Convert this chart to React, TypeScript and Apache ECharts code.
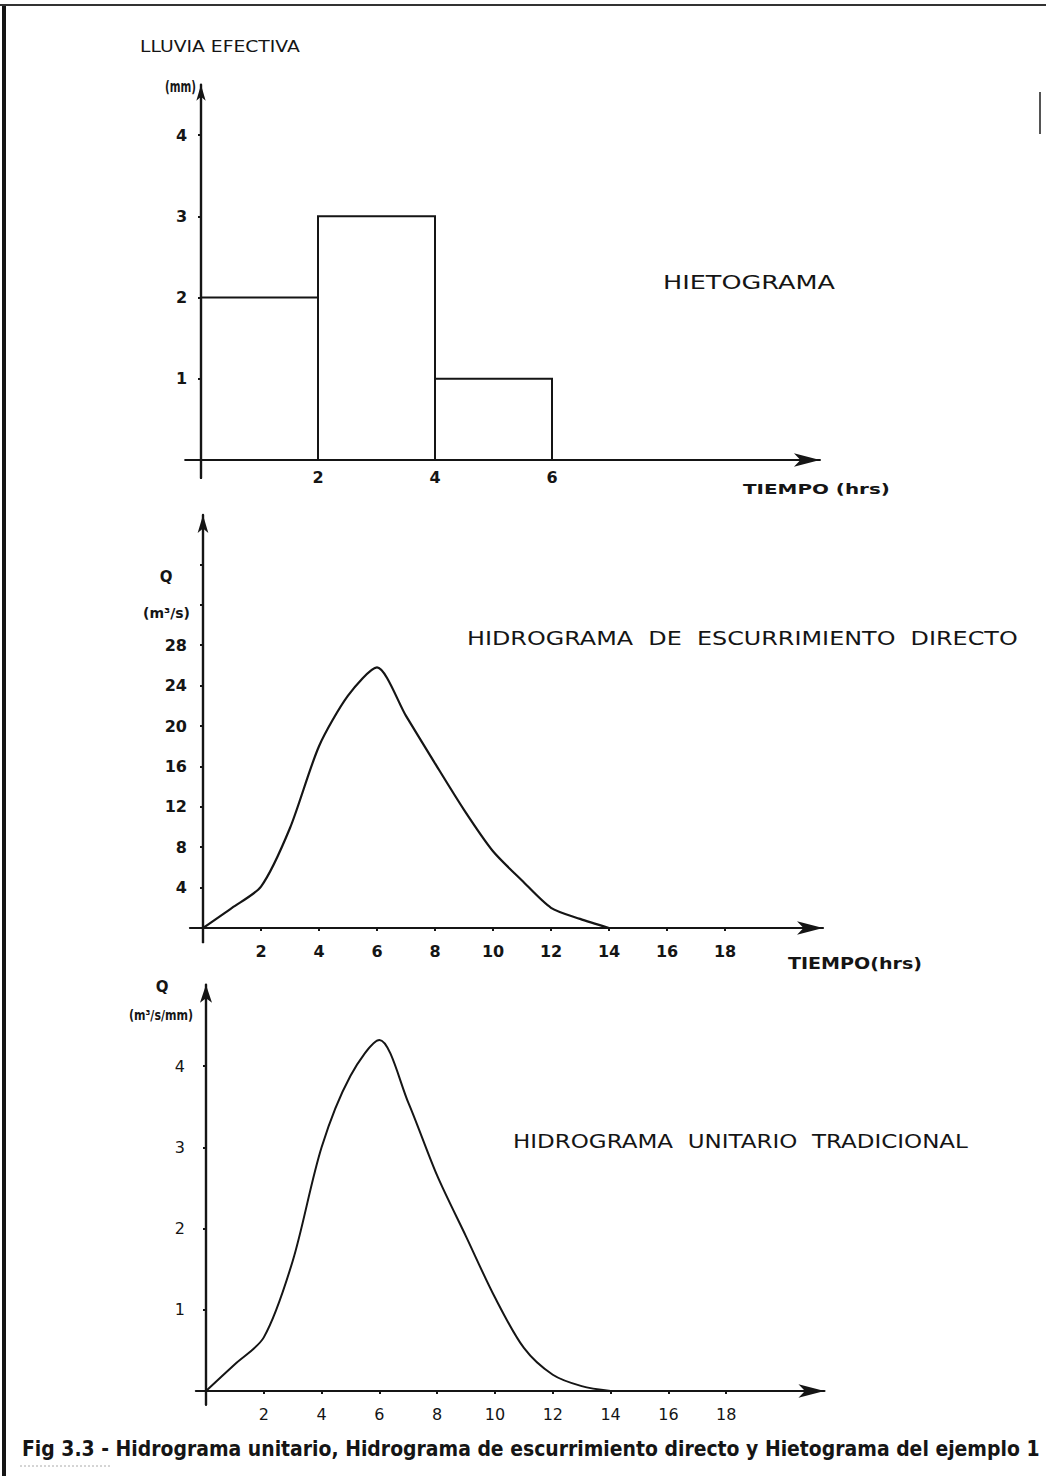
import { useEffect, useRef } from "react";
import * as echarts from "echarts";

// Hietograma: effective rainfall blocks (start hr, end hr, mm)
const RAIN_START = [0, 2, 4];
const RAIN_END = [2, 4, 6];
const RAIN_MM = [2, 3, 1];
const RAIN_Y_TICKS = [1, 2, 3, 4];
const RAIN_X_TICKS = [2, 4, 6];

// Direct runoff hydrograph (m3/s) and unit hydrograph (m3/s/mm), hourly
const HOURS = [0, 1, 2, 3, 4, 5, 6, 7, 8, 9, 10, 11, 12, 13, 14];
const DIRECT_Q = [0, 2.0, 4.1, 9.9, 18.0, 23.0, 25.8, 21.0, 16.3, 11.7, 7.6, 4.7, 2.0, 0.9, 0];
const UNIT_Q = [0, 0.33, 0.66, 1.6, 3.0, 3.88, 4.32, 3.55, 2.65, 1.9, 1.15, 0.53, 0.2, 0.06, 0];
const Q_LABEL_TICKS = [4, 8, 12, 16, 20, 24, 28];
const Q_MARK_TICKS = [4, 8, 12, 16, 20, 24, 28, 32, 36];
const UNIT_TICKS = [1, 2, 3, 4];
const TIME_TICKS = [2, 4, 6, 8, 10, 12, 14, 16, 18];

const INK = "#151515";
const FONT = "'DejaVu Sans', 'Liberation Sans', sans-serif";

type Panel = {
  ox: number; oy: number; kx: number; ky: number;
  xMin: number; xMax: number; yMin: number; yMax: number;
};

// plot frames: origin pixel, pixels per unit, and value ranges
const P1: Panel = { ox: 201, oy: 460, kx: 58.5, ky: 81.25, xMin: -0.27, xMax: 10.58, yMin: -0.22, yMax: 4.62 };
const P2: Panel = { ox: 203, oy: 928, kx: 29, ky: 10.1, xMin: -0.45, xMax: 21.38, yMin: -1.4, yMax: 40.9 };
const P3: Panel = { ox: 206, oy: 1391, kx: 28.9, ky: 81.25, xMin: -0.35, xMax: 21.4, yMin: -0.17, yMax: 5.0 };

function gridOf(p: Panel) {
  return {
    left: p.ox + p.xMin * p.kx,
    top: p.oy - p.yMax * p.ky,
    width: (p.xMax - p.xMin) * p.kx,
    height: (p.yMax - p.yMin) * p.ky,
    containLabel: false,
    outerBoundsMode: "none",
  };
}

function measure(text: string, size: number, weight: string) {
  const ctx = document.createElement("canvas").getContext("2d");
  if (!ctx) return text.length * size * 0.6;
  ctx.font = `${weight} ${size}px ${FONT}`;
  return ctx.measureText(text).width;
}

// text placed at (x, y); optional target width stretches or squeezes it horizontally
function label(text: string, x: number, y: number, size: number, weight: string, width?: number, align = "left") {
  const scaleX = width ? width / measure(text, size, weight) : 1;
  return {
    type: "text",
    x,
    y,
    scaleX,
    silent: true,
    style: {
      text,
      fontSize: size,
      fontFamily: FONT,
      fontWeight: weight,
      fill: INK,
      align,
      verticalAlign: "middle",
    },
  };
}

function xAxisOf(idx: number, p: Panel, ticks: number[], showTicks: boolean, margin: number, weight: string, size: number) {
  return {
    type: "value",
    gridIndex: idx,
    min: p.xMin,
    max: p.xMax,
    axisLine: {
      onZero: true,
      symbol: ["none", "arrow"],
      symbolSize: [10, 26],
      lineStyle: { color: INK, width: 2.2 },
    },
    axisTick: { show: showTicks, customValues: ticks, length: 3, lineStyle: { color: INK, width: 2 } },
    axisLabel: { customValues: ticks, margin, color: INK, fontFamily: FONT, fontWeight: weight, fontSize: size },
    splitLine: { show: false },
  };
}

function yAxisOf(idx: number, p: Panel, labels: number[], marks: number[], margin: number, weight: string, size: number, arrow: number[]) {
  return {
    type: "value",
    gridIndex: idx,
    min: p.yMin,
    max: p.yMax,
    axisLine: {
      onZero: true,
      symbol: ["none", "arrow"],
      symbolSize: arrow,
      lineStyle: { color: INK, width: 2.4 },
    },
    axisTick: { show: true, customValues: marks, length: 3, lineStyle: { color: INK, width: 2 } },
    axisLabel: { customValues: labels, margin, color: INK, fontFamily: FONT, fontWeight: weight, fontSize: size },
    splitLine: { show: false },
  };
}

export default function App() {
  const ref = useRef<HTMLDivElement>(null);

  useEffect(() => {
    if (!ref.current) return;
    const chart = echarts.init(ref.current, null, { renderer: "svg" });

    const rainBlocks = RAIN_START.map((s, i) => [s, RAIN_END[i], RAIN_MM[i]]);
    const direct = HOURS.map((h, i) => [h, DIRECT_Q[i]]);
    const unit = HOURS.map((h, i) => [h, UNIT_Q[i]]);

    const option: any = {
      animation: false,
      backgroundColor: "#ffffff",
      grid: [gridOf(P1), gridOf(P2), gridOf(P3)],
      xAxis: [
        xAxisOf(0, P1, RAIN_X_TICKS, false, -8, "bold", 16),
        xAxisOf(1, P2, TIME_TICKS, true, 1, "bold", 16),
        xAxisOf(2, P3, TIME_TICKS, true, 2, "normal", 16),
      ],
      yAxis: [
        yAxisOf(0, P1, RAIN_Y_TICKS, RAIN_Y_TICKS, -2, "bold", 16, [7, 16]),
        yAxisOf(1, P2, Q_LABEL_TICKS, Q_MARK_TICKS, 3, "bold", 16, [8, 18]),
        yAxisOf(2, P3, UNIT_TICKS, UNIT_TICKS, 11, "normal", 16, [9, 18]),
      ],
      series: [
        {
          type: "custom",
          xAxisIndex: 0,
          yAxisIndex: 0,
          data: rainBlocks,
          encode: { x: [0, 1], y: 2 },
          renderItem: (_params: any, api: any) => {
            const a = api.coord([api.value(0), 0]);
            const b = api.coord([api.value(1), api.value(2)]);
            return {
              type: "rect",
              shape: { x: a[0], y: b[1], width: b[0] - a[0], height: a[1] - b[1] },
              style: { fill: "none", stroke: INK, lineWidth: 2 },
            };
          },
        },
        {
          type: "line",
          xAxisIndex: 1,
          yAxisIndex: 1,
          data: direct,
          smooth: 0.25,
          showSymbol: false,
          lineStyle: { color: INK, width: 2.2 },
        },
        {
          type: "line",
          xAxisIndex: 2,
          yAxisIndex: 2,
          data: unit,
          smooth: 0.3,
          showSymbol: false,
          lineStyle: { color: INK, width: 2 },
        },
      ],
      graphic: [
        // sheet frame
        { type: "line", silent: true, shape: { x1: 4, y1: 4, x2: 4, y2: 1476 }, style: { stroke: INK, lineWidth: 4 } },
        { type: "line", silent: true, shape: { x1: 0, y1: 5, x2: 1046, y2: 5 }, style: { stroke: "#333", lineWidth: 2 } },
        { type: "line", silent: true, shape: { x1: 1040, y1: 92, x2: 1040, y2: 134 }, style: { stroke: "#555", lineWidth: 2 } },
        { type: "line", silent: true, shape: { x1: 20, y1: 1466, x2: 110, y2: 1466 }, style: { stroke: "#aaa", lineWidth: 1, lineDash: [2, 2] } },

        // hietograma
        label("LLUVIA EFECTIVA", 140, 47, 15, "normal", 160),
        label("(mm)", 196, 87, 15, "bold", 31, "right"),
        label("HIETOGRAMA", 663, 282, 20, "normal", 172),
        label("TIEMPO (hrs)", 743, 489, 14, "bold", 147),

        // hidrograma de escurrimiento directo
        label("Q", 166, 577, 15, "bold", undefined, "center"),
        label("(m³/s)", 143, 613, 14, "bold", 47),
        label("HIDROGRAMA  DE  ESCURRIMIENTO  DIRECTO", 467, 638, 20, "normal", 551),
        label("TIEMPO(hrs)", 788, 964, 15, "bold", 134),

        // hidrograma unitario
        label("Q", 162, 987, 15, "bold", undefined, "center"),
        label("(m³/s/mm)", 129, 1015, 14, "bold", 64),
        label("HIDROGRAMA  UNITARIO  TRADICIONAL", 513, 1141, 20, "normal", 455),

        // caption
        label(
          "Fig 3.3 - Hidrograma unitario, Hidrograma de escurrimiento directo y Hietograma del ejemplo 1",
          22, 1448, 22, "bold", 1018
        ),
      ],
    };

    chart.setOption(option);
    return () => chart.dispose();
  }, []);

  return (
    <div
      ref={ref}
      style={{ position: "absolute", left: 0, top: 0, width: 1046, height: 1476, background: "#fff" }}
    />
  );
}
